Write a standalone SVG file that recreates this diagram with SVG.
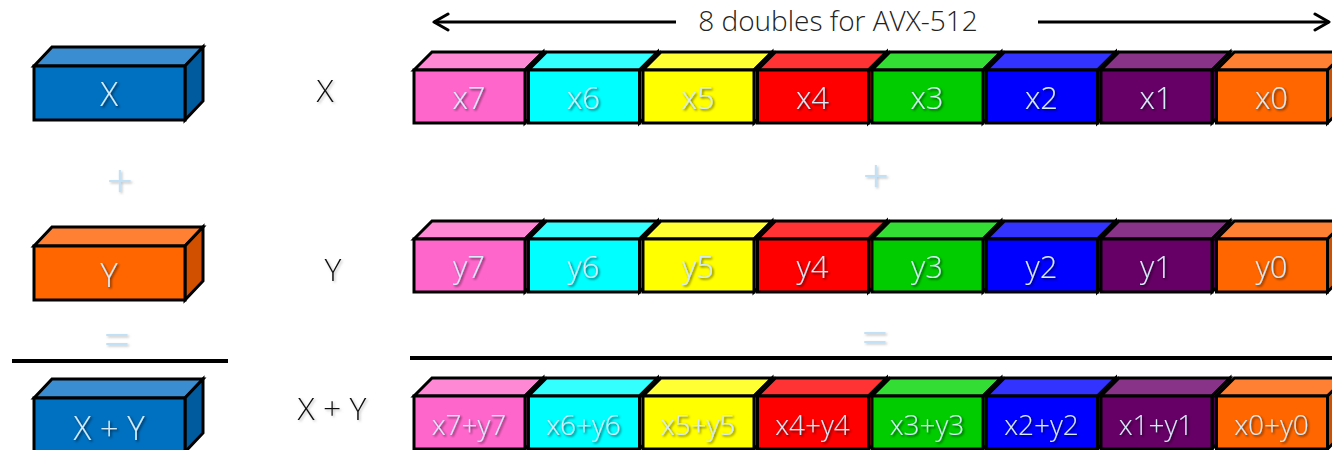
<svg xmlns="http://www.w3.org/2000/svg" width="1332" height="450" viewBox="0 0 1332 450">
<defs>
<filter id="sd" x="-20%" y="-20%" width="150%" height="160%"><feDropShadow dx="1.5" dy="1.5" stdDeviation="0.8" flood-color="#000" flood-opacity="0.6"/></filter>
<filter id="sl" x="-20%" y="-20%" width="150%" height="160%"><feDropShadow dx="1.5" dy="1.5" stdDeviation="1" flood-color="#888" flood-opacity="0.5"/></filter>
<marker id="ah" viewBox="0 0 20 20" refX="18" refY="10" markerWidth="20" markerHeight="20" markerUnits="userSpaceOnUse" orient="auto-start-reverse"><path d="M4,2 L18,10 L4,18" fill="none" stroke="#000" stroke-width="3" stroke-linecap="round" stroke-linejoin="round"/></marker>
<style>
.b path{stroke:#000;stroke-width:3;stroke-linejoin:miter}
.lbl{font-family:"Open Sans","Liberation Sans",sans-serif;font-weight:300;fill:#D6ECFA;text-anchor:middle;filter:url(#sd)}
.big{font-family:"Open Sans","Liberation Sans",sans-serif;font-weight:300;fill:#111;text-anchor:middle;font-size:32px;filter:url(#sl)}
.op{font-family:"Open Sans","Liberation Sans",sans-serif;font-weight:300;fill:#C2E0F6;text-anchor:middle;font-size:46px;filter:url(#sl)}
.pk .f{fill:#FF66CC}.pk .t{fill:#FF88D4}.pk .s{fill:#E050B0}
.cy .f{fill:#00FFFF}.cy .t{fill:#33FFFF}.cy .s{fill:#00CCCC}
.ye .f{fill:#FFFF00}.ye .t{fill:#FFFF33}.ye .s{fill:#D8D800}
.rd .f{fill:#FF0000}.rd .t{fill:#FF3333}.rd .s{fill:#CC0000}
.gr .f{fill:#00CC00}.gr .t{fill:#33DD33}.gr .s{fill:#00A000}
.bl .f{fill:#0000FF}.bl .t{fill:#3333FF}.bl .s{fill:#0000CC}
.pu .f{fill:#660066}.pu .t{fill:#883388}.pu .s{fill:#4A004A}
.or .f{fill:#FF6600}.or .t{fill:#FF8033}.or .s{fill:#D05000}
.db .f{fill:#0070C0}.db .t{fill:#3A8DD0}.db .s{fill:#005A9E}
</style>
</defs>
<rect width="1332" height="450" fill="#fff"/>

<g id="connectors">
<line x1="12" y1="361" x2="228" y2="361" stroke="#000" stroke-width="4"/>
<line x1="410" y1="358" x2="1332" y2="358" stroke="#000" stroke-width="4"/>
<line x1="676" y1="22" x2="434" y2="22" stroke="#000" stroke-width="3" marker-end="url(#ah)"/>
<line x1="1038" y1="22" x2="1329" y2="22" stroke="#000" stroke-width="3" marker-end="url(#ah)"/>
</g>

<g id="title"><text x="838" y="31" font-family="'Open Sans','Liberation Sans',sans-serif" font-weight="300" font-size="28" fill="#222" text-anchor="middle">8 doubles for AVX-512</text></g>

<!-- left scalar boxes -->
<g id="boxX" class="b db" transform="translate(34,66)">
<path class="t" d="M0,0 L18,-19 L169,-19 L151,0 Z"/><path class="s" d="M151,0 L169,-19 L169,35 L151,54 Z"/><path class="f" d="M0,0 H151 V54 H0 Z"/>
<text class="lbl" x="75" y="40" font-size="33">X</text></g>
<g id="boxY" class="b or" transform="translate(34,246)">
<path class="t" d="M0,0 L18,-19 L169,-19 L151,0 Z"/><path class="s" d="M151,0 L169,-19 L169,35 L151,54 Z"/><path class="f" d="M0,0 H151 V54 H0 Z"/>
<text class="lbl" x="75" y="41" font-size="33">Y</text></g>
<g id="boxXY" class="b db" transform="translate(34,398)">
<path class="t" d="M0,0 L18,-19 L169,-19 L151,0 Z"/><path class="s" d="M151,0 L169,-19 L169,35 L151,54 Z"/><path class="f" d="M0,0 H151 V54 H0 Z"/>
<text class="lbl" x="75" y="42" font-size="33">X + Y</text></g>

<g id="ops">
<text class="op" x="120" y="197">+</text>
<text class="op" x="117" y="356">=</text>
<text class="op" x="876" y="192">+</text>
<text class="op" x="875" y="354">=</text>
</g>
<g id="rowlabels">
<text class="big" x="325" y="102">X</text>
<text class="big" x="333" y="281">Y</text>
<text class="big" x="332" y="420">X + Y</text>
</g>

<!-- Row X -->
<g id="rowX">
<g id="x7" class="b pk" transform="translate(414,70)"><path class="t" d="M0,0 L18,-18 L129,-18 L111,0 Z"/><path class="s" d="M111,0 L129,-18 L129,35 L111,53 Z"/><path class="f" d="M0,0 H111 V53 H0 Z"/><text class="lbl" x="55" y="39" font-size="31">x7</text></g>
<g id="x6" class="b cy" transform="translate(528.5,70)"><path class="t" d="M0,0 L18,-18 L129,-18 L111,0 Z"/><path class="s" d="M111,0 L129,-18 L129,35 L111,53 Z"/><path class="f" d="M0,0 H111 V53 H0 Z"/><text class="lbl" x="55" y="39" font-size="31">x6</text></g>
<g id="x5" class="b ye" transform="translate(643,70)"><path class="t" d="M0,0 L18,-18 L129,-18 L111,0 Z"/><path class="s" d="M111,0 L129,-18 L129,35 L111,53 Z"/><path class="f" d="M0,0 H111 V53 H0 Z"/><text class="lbl" x="55" y="39" font-size="31">x5</text></g>
<g id="x4" class="b rd" transform="translate(757.5,70)"><path class="t" d="M0,0 L18,-18 L129,-18 L111,0 Z"/><path class="s" d="M111,0 L129,-18 L129,35 L111,53 Z"/><path class="f" d="M0,0 H111 V53 H0 Z"/><text class="lbl" x="55" y="39" font-size="31">x4</text></g>
<g id="x3" class="b gr" transform="translate(872,70)"><path class="t" d="M0,0 L18,-18 L129,-18 L111,0 Z"/><path class="s" d="M111,0 L129,-18 L129,35 L111,53 Z"/><path class="f" d="M0,0 H111 V53 H0 Z"/><text class="lbl" x="55" y="39" font-size="31">x3</text></g>
<g id="x2" class="b bl" transform="translate(986.5,70)"><path class="t" d="M0,0 L18,-18 L129,-18 L111,0 Z"/><path class="s" d="M111,0 L129,-18 L129,35 L111,53 Z"/><path class="f" d="M0,0 H111 V53 H0 Z"/><text class="lbl" x="55" y="39" font-size="31">x2</text></g>
<g id="x1" class="b pu" transform="translate(1101,70)"><path class="t" d="M0,0 L18,-18 L129,-18 L111,0 Z"/><path class="s" d="M111,0 L129,-18 L129,35 L111,53 Z"/><path class="f" d="M0,0 H111 V53 H0 Z"/><text class="lbl" x="55" y="39" font-size="31">x1</text></g>
<g id="x0" class="b or" transform="translate(1216.5,70)"><path class="t" d="M0,0 L18,-18 L129,-18 L111,0 Z"/><path class="s" d="M111,0 L129,-18 L129,35 L111,53 Z"/><path class="f" d="M0,0 H111 V53 H0 Z"/><text class="lbl" x="55" y="39" font-size="31">x0</text></g>
</g>

<!-- Row Y -->
<g id="rowY">
<g id="y7" class="b pk" transform="translate(414,239)"><path class="t" d="M0,0 L18,-18 L129,-18 L111,0 Z"/><path class="s" d="M111,0 L129,-18 L129,35 L111,53 Z"/><path class="f" d="M0,0 H111 V53 H0 Z"/><text class="lbl" x="55" y="39" font-size="31">y7</text></g>
<g id="y6" class="b cy" transform="translate(528.5,239)"><path class="t" d="M0,0 L18,-18 L129,-18 L111,0 Z"/><path class="s" d="M111,0 L129,-18 L129,35 L111,53 Z"/><path class="f" d="M0,0 H111 V53 H0 Z"/><text class="lbl" x="55" y="39" font-size="31">y6</text></g>
<g id="y5" class="b ye" transform="translate(643,239)"><path class="t" d="M0,0 L18,-18 L129,-18 L111,0 Z"/><path class="s" d="M111,0 L129,-18 L129,35 L111,53 Z"/><path class="f" d="M0,0 H111 V53 H0 Z"/><text class="lbl" x="55" y="39" font-size="31">y5</text></g>
<g id="y4" class="b rd" transform="translate(757.5,239)"><path class="t" d="M0,0 L18,-18 L129,-18 L111,0 Z"/><path class="s" d="M111,0 L129,-18 L129,35 L111,53 Z"/><path class="f" d="M0,0 H111 V53 H0 Z"/><text class="lbl" x="55" y="39" font-size="31">y4</text></g>
<g id="y3" class="b gr" transform="translate(872,239)"><path class="t" d="M0,0 L18,-18 L129,-18 L111,0 Z"/><path class="s" d="M111,0 L129,-18 L129,35 L111,53 Z"/><path class="f" d="M0,0 H111 V53 H0 Z"/><text class="lbl" x="55" y="39" font-size="31">y3</text></g>
<g id="y2" class="b bl" transform="translate(986.5,239)"><path class="t" d="M0,0 L18,-18 L129,-18 L111,0 Z"/><path class="s" d="M111,0 L129,-18 L129,35 L111,53 Z"/><path class="f" d="M0,0 H111 V53 H0 Z"/><text class="lbl" x="55" y="39" font-size="31">y2</text></g>
<g id="y1" class="b pu" transform="translate(1101,239)"><path class="t" d="M0,0 L18,-18 L129,-18 L111,0 Z"/><path class="s" d="M111,0 L129,-18 L129,35 L111,53 Z"/><path class="f" d="M0,0 H111 V53 H0 Z"/><text class="lbl" x="55" y="39" font-size="31">y1</text></g>
<g id="y0" class="b or" transform="translate(1216.5,239)"><path class="t" d="M0,0 L18,-18 L129,-18 L111,0 Z"/><path class="s" d="M111,0 L129,-18 L129,35 L111,53 Z"/><path class="f" d="M0,0 H111 V53 H0 Z"/><text class="lbl" x="55" y="39" font-size="31">y0</text></g>
</g>

<!-- Row sum -->
<g id="rowS">
<g id="s7" class="b pk" transform="translate(414,396)"><path class="t" d="M0,0 L18,-18 L129,-18 L111,0 Z"/><path class="s" d="M111,0 L129,-18 L129,35 L111,53 Z"/><path class="f" d="M0,0 H111 V53 H0 Z"/><text class="lbl" x="55" y="39" font-size="28">x7+y7</text></g>
<g id="s6" class="b cy" transform="translate(528.5,396)"><path class="t" d="M0,0 L18,-18 L129,-18 L111,0 Z"/><path class="s" d="M111,0 L129,-18 L129,35 L111,53 Z"/><path class="f" d="M0,0 H111 V53 H0 Z"/><text class="lbl" x="55" y="39" font-size="28">x6+y6</text></g>
<g id="s5" class="b ye" transform="translate(643,396)"><path class="t" d="M0,0 L18,-18 L129,-18 L111,0 Z"/><path class="s" d="M111,0 L129,-18 L129,35 L111,53 Z"/><path class="f" d="M0,0 H111 V53 H0 Z"/><text class="lbl" x="55" y="39" font-size="28">x5+y5</text></g>
<g id="s4" class="b rd" transform="translate(757.5,396)"><path class="t" d="M0,0 L18,-18 L129,-18 L111,0 Z"/><path class="s" d="M111,0 L129,-18 L129,35 L111,53 Z"/><path class="f" d="M0,0 H111 V53 H0 Z"/><text class="lbl" x="55" y="39" font-size="28">x4+y4</text></g>
<g id="s3" class="b gr" transform="translate(872,396)"><path class="t" d="M0,0 L18,-18 L129,-18 L111,0 Z"/><path class="s" d="M111,0 L129,-18 L129,35 L111,53 Z"/><path class="f" d="M0,0 H111 V53 H0 Z"/><text class="lbl" x="55" y="39" font-size="28">x3+y3</text></g>
<g id="s2" class="b bl" transform="translate(986.5,396)"><path class="t" d="M0,0 L18,-18 L129,-18 L111,0 Z"/><path class="s" d="M111,0 L129,-18 L129,35 L111,53 Z"/><path class="f" d="M0,0 H111 V53 H0 Z"/><text class="lbl" x="55" y="39" font-size="28">x2+y2</text></g>
<g id="s1" class="b pu" transform="translate(1101,396)"><path class="t" d="M0,0 L18,-18 L129,-18 L111,0 Z"/><path class="s" d="M111,0 L129,-18 L129,35 L111,53 Z"/><path class="f" d="M0,0 H111 V53 H0 Z"/><text class="lbl" x="55" y="39" font-size="28">x1+y1</text></g>
<g id="s0" class="b or" transform="translate(1216.5,396)"><path class="t" d="M0,0 L18,-18 L129,-18 L111,0 Z"/><path class="s" d="M111,0 L129,-18 L129,35 L111,53 Z"/><path class="f" d="M0,0 H111 V53 H0 Z"/><text class="lbl" x="55" y="39" font-size="28">x0+y0</text></g>
</g>
</svg>
